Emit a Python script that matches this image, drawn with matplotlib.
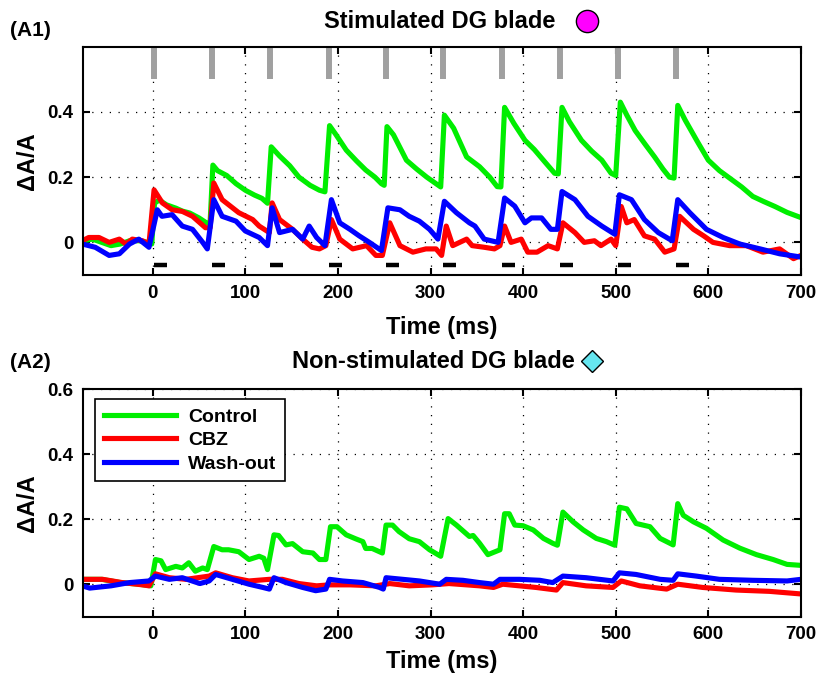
import numpy as np
import matplotlib
matplotlib.use('Agg')
import matplotlib.pyplot as plt
from matplotlib.lines import Line2D

plt.rcParams['font.family'] = ['Liberation Sans', 'DejaVu Sans']
plt.rcParams['font.weight'] = 'bold'

# stimulus onsets (ms)
stim_times = [1, 64, 127, 190, 252, 314, 377, 440, 503, 565]
stim_len = 14

# ---- A1: stimulated DG blade ----
a1_ctrl_t = [-75, -65, -55, -45, -35, -25, -15, -5, -1,
             2, 7, 15, 25, 32, 40, 50, 58, 62,
             65, 70, 80, 90, 100, 110, 118, 124,
             128, 137, 148, 158, 170, 180, 186,
             191, 198, 209, 220, 230, 240, 247, 250,
             253, 260, 274, 285, 296, 306, 311,
             315, 325, 339, 353, 364, 372, 376,
             380, 390, 402, 412, 424, 434, 438,
             442, 450, 463, 474, 485, 495, 500,
             505, 512, 521, 532, 542, 551, 558, 563,
             567, 575, 588, 600, 612, 624, 636, 648, 660, 672, 685, 700]
a1_ctrl_v = [0.005, 0.01, 0.0, -0.01, -0.005, 0.005, 0.005, 0.0, -0.005,
             0.12, 0.13, 0.115, 0.105, 0.096, 0.09, 0.075, 0.06, 0.06,
             0.237, 0.22, 0.205, 0.18, 0.16, 0.145, 0.135, 0.12,
             0.293, 0.265, 0.235, 0.2, 0.175, 0.16, 0.155,
             0.358, 0.33, 0.283, 0.25, 0.222, 0.2, 0.18, 0.175,
             0.355, 0.33, 0.252, 0.225, 0.2, 0.18, 0.17,
             0.39, 0.35, 0.262, 0.232, 0.2, 0.171, 0.17,
             0.414, 0.365, 0.313, 0.285, 0.245, 0.212, 0.21,
             0.414, 0.37, 0.313, 0.28, 0.252, 0.212, 0.205,
             0.43, 0.39, 0.343, 0.3, 0.262, 0.225, 0.2, 0.197,
             0.42, 0.375, 0.31, 0.252, 0.22, 0.195, 0.17, 0.141, 0.125, 0.11, 0.092, 0.076]

a1_cbz_t = [-76, -69, -58, -47, -36, -29, -22, -11, -4,
            1.5, 10.5, 21, 32, 43, 57, 62,
            66, 75, 93, 108, 115, 126,
            129, 137, 151, 162, 172, 180, 187,
            193, 202, 216, 231, 241, 248,
            256, 267, 281, 295, 306, 312,
            317, 324, 339, 345, 358, 369, 375,
            380, 387, 398, 405, 415, 427, 437,
            443, 456, 466, 477, 484, 495, 500,
            506, 512, 520, 531, 542, 553, 563,
            569, 584, 595, 605, 623, 641, 659, 677, 692, 700]
a1_cbz_v = [0.005, 0.015, 0.015, 0.0, 0.01, -0.005, 0.01, 0.005, -0.005,
            0.161, 0.121, 0.1, 0.095, 0.08, 0.045, 0.045,
            0.182, 0.131, 0.091, 0.07, 0.05, 0.03,
            0.121, 0.07, 0.04, 0.01, -0.015, -0.02, -0.01,
            0.07, 0.01, -0.02, -0.01, -0.04, -0.04,
            0.06, -0.01, -0.03, -0.02, -0.02, -0.04,
            0.05, -0.01, 0.01, -0.01, -0.015, -0.02, -0.01,
            0.05, 0.0, 0.01, -0.03, -0.03, -0.01, -0.02,
            0.06, 0.03, 0.0, 0.005, -0.01, 0.01, -0.01,
            0.11, 0.06, 0.07, 0.02, 0.01, -0.03, -0.02,
            0.08, 0.04, 0.02, 0.0, -0.01, -0.01, -0.03, -0.02, -0.05, -0.04]

a1_wash_t = [-76, -62, -47, -36, -25, -15, -4,
             5, 10, 21, 32, 43, 54, 59,
             66, 75, 90, 100, 115, 124,
             129, 137, 151, 162, 169, 177, 186,
             193, 202, 213, 223, 234, 247,
             254, 267, 277, 288, 299, 308,
             315, 328, 342, 348, 358, 373,
             380, 391, 402, 409, 420, 430, 437,
             442, 456, 470, 485, 499,
             504, 517, 531, 546, 561,
             567, 580, 598, 616, 634, 656, 677, 700]
a1_wash_v = [-0.005, -0.015, -0.04, -0.035, -0.005, 0.01, -0.015,
             0.1, 0.08, 0.085, 0.05, 0.04, 0.0, -0.02,
             0.131, 0.08, 0.065, 0.035, 0.015, -0.01,
             0.106, 0.03, 0.04, 0.01, 0.05, 0.015, -0.01,
             0.131, 0.06, 0.04, 0.02, 0.0, -0.025,
             0.106, 0.1, 0.08, 0.065, 0.04, 0.01,
             0.126, 0.091, 0.06, 0.05, 0.01, 0.0,
             0.136, 0.111, 0.06, 0.075, 0.075, 0.04, 0.04,
             0.156, 0.131, 0.08, 0.05, 0.025,
             0.146, 0.131, 0.07, 0.03, 0.005,
             0.131, 0.091, 0.04, 0.015, -0.005, -0.02, -0.035, -0.045]

# ---- A2: non-stimulated DG blade ----
a2_ctrl_t = [-76, -55, -35, -15, -2,
             3, 9, 14, 25, 32, 39, 46, 54, 59,
             66, 75, 82, 93, 104, 115, 120, 124,
             131, 136, 144, 151, 162, 173, 180, 187,
             192, 199, 209, 219, 227, 230, 237, 248,
             252, 259, 266, 277, 288, 299, 311,
             319, 328, 342, 346, 353, 362, 375,
             380, 385, 391, 400, 411, 422, 432, 437,
             443, 454, 465, 479, 490, 499,
             504, 512, 522, 537, 548, 562,
             567, 573, 584, 598, 616, 634, 652, 670, 685, 700]
a2_ctrl_v = [0.015, 0.015, 0.005, 0.0, -0.005,
             0.076, 0.072, 0.045, 0.055, 0.05, 0.066, 0.04, 0.05, 0.045,
             0.116, 0.106, 0.106, 0.1, 0.076, 0.086, 0.08, 0.045,
             0.152, 0.15, 0.121, 0.125, 0.1, 0.096, 0.076, 0.076,
             0.177, 0.177, 0.152, 0.14, 0.131, 0.11, 0.11, 0.096,
             0.182, 0.182, 0.162, 0.14, 0.131, 0.106, 0.086,
             0.202, 0.182, 0.147, 0.15, 0.126, 0.091, 0.106,
             0.217, 0.217, 0.182, 0.18, 0.167, 0.141, 0.126, 0.12,
             0.222, 0.192, 0.167, 0.141, 0.131, 0.12,
             0.237, 0.232, 0.187, 0.177, 0.141, 0.121,
             0.248, 0.212, 0.192, 0.172, 0.136, 0.111, 0.091, 0.076, 0.061, 0.058]

a2_cbz_t = [-76, -54, -33, -11, -4, 3, 18, 36, 61, 68, 86, 104, 126, 140,
            158, 177, 191, 213, 241, 256, 277, 302, 320, 353, 368, 378,
            396, 414, 436, 443, 468, 497, 506, 526, 555, 567, 594, 630, 666, 700]
a2_cbz_v = [0.015, 0.015, 0.005, -0.002, -0.005, 0.032, 0.02, 0.015, 0.025, 0.035,
            0.02, 0.01, 0.015, 0.015, 0.002, -0.005, -0.002, -0.002, -0.005, 0.002,
            -0.005, -0.002, 0.002, -0.005, -0.01, 0.0, -0.005, -0.01, -0.018, 0.005,
            -0.005, -0.01, 0.01, -0.005, -0.015, 0.0, -0.01, -0.018, -0.022, -0.03]

a2_wash_t = [-76, -68, -45, -25, -4, 3, 18, 32, 51, 61, 68, 86, 104, 119, 126,
             131, 144, 162, 176, 187, 191, 205, 227, 245, 249,
             252, 270, 288, 310, 317, 335, 353, 368, 375, 396, 418, 432,
             443, 468, 497, 504, 522, 548, 562, 567, 587, 612, 648, 685, 700]
a2_wash_v = [-0.005, -0.012, -0.005, 0.005, 0.01, 0.025, 0.015, 0.02, 0.002, 0.01,
             0.03, 0.015, 0.0, -0.01, -0.015,
             0.02, 0.005, -0.01, -0.02, -0.015, 0.015, 0.01, 0.005, -0.01, -0.015,
             0.02, 0.015, 0.01, 0.0, 0.015, 0.012, 0.005, 0.0, 0.015, 0.015, 0.012, 0.005,
             0.025, 0.02, 0.01, 0.035, 0.03, 0.015, 0.012, 0.032, 0.025, 0.015, 0.012, 0.01, 0.015]

c_ctrl = '#00ee00'
c_cbz = '#ff0000'
c_wash = '#0000ff'
lw = 3.7

fig = plt.figure(figsize=(8.24, 6.8), dpi=100)
ax1 = fig.add_axes([0.101, 0.5956, 0.871, 0.3357])
ax2 = fig.add_axes([0.101, 0.0931, 0.871, 0.3344])


def style_axis(ax, yticks, ylabels, xpad):
    ax.set_xlim(-75, 700)
    ax.set_ylim(-0.1, 0.6)
    ax.set_xticks([0, 100, 200, 300, 400, 500, 600, 700])
    ax.set_yticks(yticks)
    ax.set_yticklabels(ylabels)
    ax.grid(True, color='black', linestyle=(0, (1, 6)), linewidth=0.9)
    ax.tick_params(direction='in', length=5, width=1.5, top=True, right=True,
                   labelsize=13.5, pad=7)
    for s in ax.spines.values():
        s.set_linewidth(1.5)
    ax.set_xlabel('Time (ms)', fontsize=17, fontweight='bold', labelpad=xpad)
    ax.set_ylabel('\u0394A/A', fontsize=17, fontweight='bold', labelpad=6)


# A1 traces
ax1.plot(a1_ctrl_t, a1_ctrl_v, color=c_ctrl, lw=lw, solid_joinstyle='round')
ax1.plot(a1_cbz_t, a1_cbz_v, color=c_cbz, lw=lw, solid_joinstyle='round')
ax1.plot(a1_wash_t, a1_wash_v, color=c_wash, lw=lw, solid_joinstyle='round')
# stimulus markers
for st in stim_times:
    ax1.plot([st, st], [0.5, 0.6], color='#a0a0a0', lw=4.3, solid_capstyle='butt')
    ax1.plot([st, st + stim_len], [-0.068, -0.068], color='black', lw=3.2,
             solid_capstyle='butt')
style_axis(ax1, [0, 0.2, 0.4], ['0', '0.2', '0.4'], 10)

# A2 traces
ax2.plot(a2_ctrl_t, a2_ctrl_v, color=c_ctrl, lw=lw, label='Control', solid_joinstyle='round')
ax2.plot(a2_cbz_t, a2_cbz_v, color=c_cbz, lw=lw, label='CBZ', solid_joinstyle='round')
ax2.plot(a2_wash_t, a2_wash_v, color=c_wash, lw=lw, label='Wash-out', solid_joinstyle='round')
style_axis(ax2, [0, 0.2, 0.4, 0.6], ['0', '0.2', '0.4', '0.6'], 5)
leg = ax2.legend(loc='upper left', bbox_to_anchor=(0.017, 0.956), fancybox=False,
                 framealpha=1, edgecolor='black', handlelength=3.7,
                 prop={'weight': 'bold', 'size': 14}, borderpad=0.45,
                 labelspacing=0.3, handletextpad=0.6, borderaxespad=0)
leg.get_frame().set_linewidth(1.2)

# titles and panel labels
fig.text(0.534, 0.968, 'Stimulated DG blade', ha='center', va='center',
         fontsize=17, fontweight='bold')
fig.add_artist(Line2D([0.712], [0.969], marker='o', markersize=16,
                      markerfacecolor='#ff00ff', markeredgecolor='black',
                      markeredgewidth=1, transform=fig.transFigure))
fig.text(0.526, 0.468, 'Non-stimulated DG blade', ha='center', va='center',
         fontsize=17, fontweight='bold')
fig.add_artist(Line2D([0.719], [0.469], marker='D', markersize=11,
                      markerfacecolor='#66e6f0', markeredgecolor='black',
                      markeredgewidth=1, transform=fig.transFigure))
fig.text(0.012, 0.955, '(A1)', fontsize=15, fontweight='bold', va='center')
fig.text(0.012, 0.467, '(A2)', fontsize=15, fontweight='bold', va='center')

fig.savefig('out.png', dpi=100)
